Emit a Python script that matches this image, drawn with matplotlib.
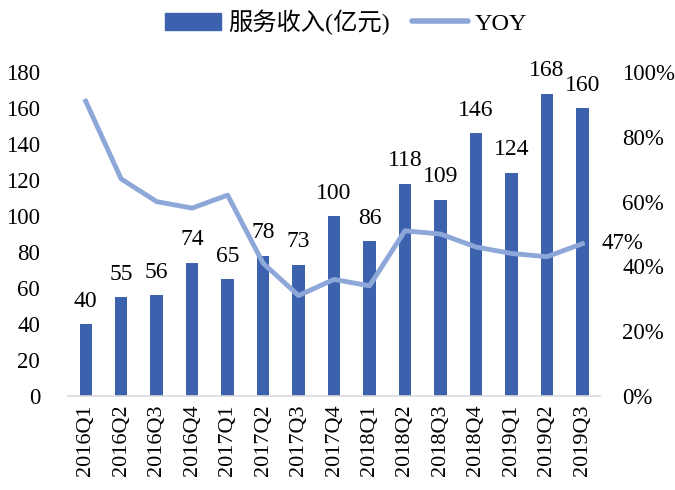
import matplotlib.pyplot as plt
from matplotlib.patches import Patch
from matplotlib.lines import Line2D
from matplotlib.ticker import FuncFormatter

plt.rcParams['font.family'] = ['Liberation Serif', 'Noto Sans CJK SC']

# 数据
quarters = ['2016Q1', '2016Q2', '2016Q3', '2016Q4', '2017Q1', '2017Q2', '2017Q3', '2017Q4',
            '2018Q1', '2018Q2', '2018Q3', '2018Q4', '2019Q1', '2019Q2', '2019Q3']
revenue = [40, 55, 56, 74, 65, 78, 73, 100, 86, 118, 109, 146, 124, 168, 160]
yoy = [0.91, 0.67, 0.60, 0.58, 0.62, 0.41, 0.31, 0.36, 0.34, 0.51, 0.50, 0.46, 0.44, 0.43, 0.47]

bar_color = '#3C61AD'
line_color = '#8EA7D9'
fs = 16.5

fig = plt.figure(figsize=(6.75, 4.9), dpi=100)
ax = fig.add_axes([0.1007, 0.1918, 0.7883, 0.6612])
x = list(range(len(quarters)))
ax.bar(x, revenue, width=0.35, color=bar_color, zorder=2)
for xi, v in zip(x, revenue):
    ax.annotate(str(v), (xi, v), xytext=(0, 9), textcoords='offset points',
                ha='center', va='bottom', fontsize=17)

ax.set_xlim(-0.5, len(quarters) - 0.5)
ax.set_ylim(0, 180)
ax.set_yticks(range(0, 181, 20))
ax.set_xticks(x)
ax.set_xticklabels(quarters, rotation=90, fontsize=16)
ax.tick_params(axis='y', labelsize=fs, length=0, pad=20)
ax.tick_params(axis='x', length=0, pad=6)
for s in ['top', 'right', 'left']:
    ax.spines[s].set_visible(False)
ax.spines['bottom'].set_color('#D9D9D9')
ax.spines['bottom'].set_linewidth(1.2)

ax2 = ax.twinx()
ax2.plot(x, yoy, color=line_color, linewidth=3.5, zorder=3)
ax2.set_ylim(0, 1.0)
ax2.set_yticks([0, 0.2, 0.4, 0.6, 0.8, 1.0])
ax2.yaxis.set_major_formatter(FuncFormatter(lambda v, p: f'{v*100:.0f}%'))
ax2.tick_params(axis='y', labelsize=fs, length=0, pad=16)
for s in ['top', 'right', 'left', 'bottom']:
    ax2.spines[s].set_visible(False)
ax2.annotate(f'{yoy[-1]*100:.0f}%', (x[-1], yoy[-1]), xytext=(14, 0), textcoords='offset points',
             ha='left', va='center', fontsize=fs)

handles = [Patch(color=bar_color), Line2D([0], [0], color=line_color, linewidth=4, solid_capstyle='round')]
fig.legend(handles, ['服务收入(亿元)', 'YOY'], loc='center', bbox_to_anchor=(0.513, 0.955),
           ncol=2, frameon=False, fontsize=17.5, handlelength=2.3, handleheight=0.7,
           columnspacing=0.9, handletextpad=0.3)

fig.savefig('out.png', dpi=100)
